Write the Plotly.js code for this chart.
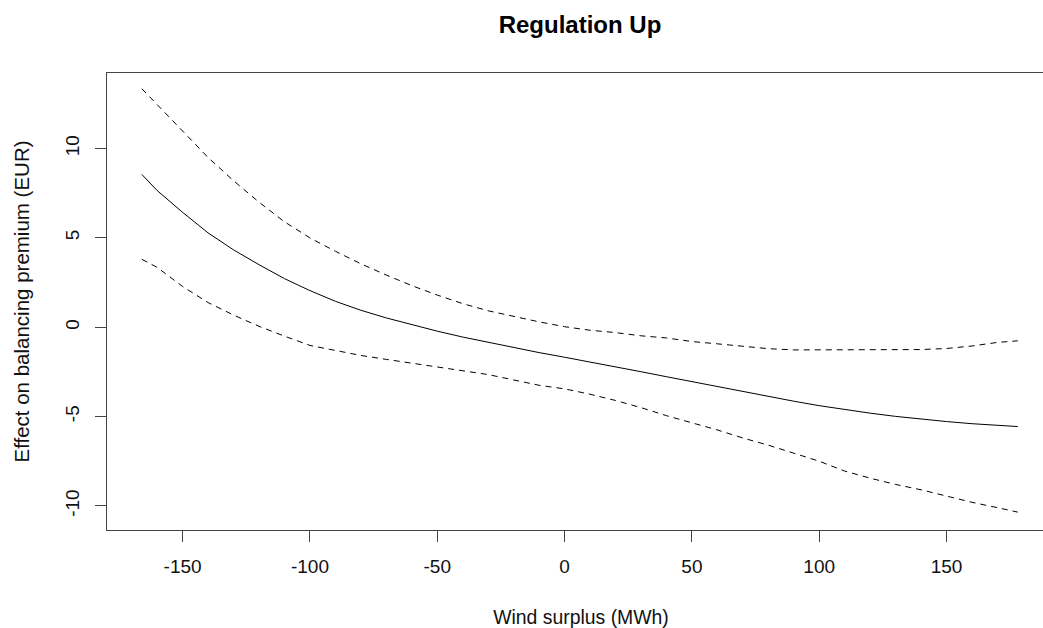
<!DOCTYPE html>
<html>
<head>
<meta charset="utf-8">
<script src="https://cdn.plot.ly/plotly-3.0.1.min.js"></script>
<style>
html, body { margin: 0; padding: 0; overflow: hidden; background: #fff; }
#chart { width: 1080px; height: 628px; }
</style>
</head>
<body>
<div id="chart"></div>
<script>
// Wind surplus (MWh)
const windSurplus = [-166,-160,-150,-140,-130,-120,-110,-100,-90,-80,-70,-60,-50,-40,-30,-20,-10,0,10,20,30,40,50,60,70,80,90,100,110,120,130,140,150,160,170,178];
// Estimated effect on balancing premium (EUR)
const effectFit = [8.55,7.65,6.43,5.28,4.33,3.5,2.72,2.05,1.45,0.95,0.52,0.13,-0.22,-0.55,-0.85,-1.14,-1.42,-1.68,-1.94,-2.21,-2.49,-2.77,-3.05,-3.33,-3.61,-3.88,-4.14,-4.39,-4.61,-4.81,-4.99,-5.15,-5.28,-5.4,-5.49,-5.56];
// Upper confidence band
const effectUpper = [13.35,12.45,10.95,9.5,8.2,7.0,5.9,5.0,4.25,3.55,2.92,2.33,1.8,1.32,0.92,0.6,0.3,0.03,-0.17,-0.3,-0.48,-0.6,-0.8,-0.93,-1.08,-1.2,-1.27,-1.27,-1.27,-1.27,-1.27,-1.25,-1.19,-1.05,-0.85,-0.76];
// Lower confidence band
const effectLower = [3.8,3.35,2.28,1.38,0.68,0.05,-0.5,-1.02,-1.3,-1.58,-1.8,-2.02,-2.22,-2.42,-2.65,-2.95,-3.25,-3.45,-3.75,-4.1,-4.5,-4.95,-5.35,-5.75,-6.2,-6.6,-7.05,-7.5,-8.05,-8.45,-8.8,-9.1,-9.45,-9.8,-10.1,-10.35];

const xTicks = [-150,-100,-50,0,50,100,150];
const yTicks = [-10,-5,0,5,10];

const fontFam = '"Liberation Sans", Arial, sans-serif';

const traces = [
  {x: windSurplus, y: effectFit, mode: 'lines', line: {color: '#000', width: 1}, name: 'fit'},
  {x: windSurplus, y: effectUpper, mode: 'lines', line: {color: '#000', width: 1, dash: '6px,5px'}, name: 'upper'},
  {x: windSurplus, y: effectLower, mode: 'lines', line: {color: '#000', width: 1, dash: '6px,5px'}, name: 'lower'}
];

const axisCommon = {
  showline: true, mirror: true, linecolor: '#444', linewidth: 1,
  ticks: 'outside', ticklen: 11, tickwidth: 1, tickcolor: '#444',
  showgrid: false, zeroline: false,
  tickfont: {family: fontFam, size: 19, color: '#111'},
  automargin: false
};

const layout = {
  width: 1080, height: 628,
  margin: {l: 107, r: 25, t: 73, b: 98},
  paper_bgcolor: '#fff', plot_bgcolor: '#fff',
  showlegend: false,
  title: {
    text: 'Regulation Up',
    font: {family: fontFam, size: 24, color: '#000', weight: 700},
    x: 580 / 1080, xanchor: 'center', xref: 'container',
    y: 1 - 25 / 628, yanchor: 'middle', yref: 'container'
  },
  xaxis: Object.assign({}, axisCommon, {
    range: [-179.7, 192.6],
    tickmode: 'array', tickvals: xTicks, ticktext: xTicks.map(String),
    ticklabelstandoff: 8,
    title: {text: 'Wind surplus (MWh)', font: {family: fontFam, size: 19.4, color: '#111'}, standoff: 34}
  }),
  yaxis: Object.assign({}, axisCommon, {
    range: [-11.35, 14.23],
    tickmode: 'array', tickvals: yTicks, ticktext: yTicks.map(String),
    tickangle: -90,
    ticklabelstandoff: 8,
    title: {text: 'Effect on balancing premium (EUR)', font: {family: fontFam, size: 20.5, color: '#111'}, standoff: 27}
  })
};

Plotly.newPlot('chart', traces, layout, {staticPlot: true, displayModeBar: false});
</script>
</body>
</html>
